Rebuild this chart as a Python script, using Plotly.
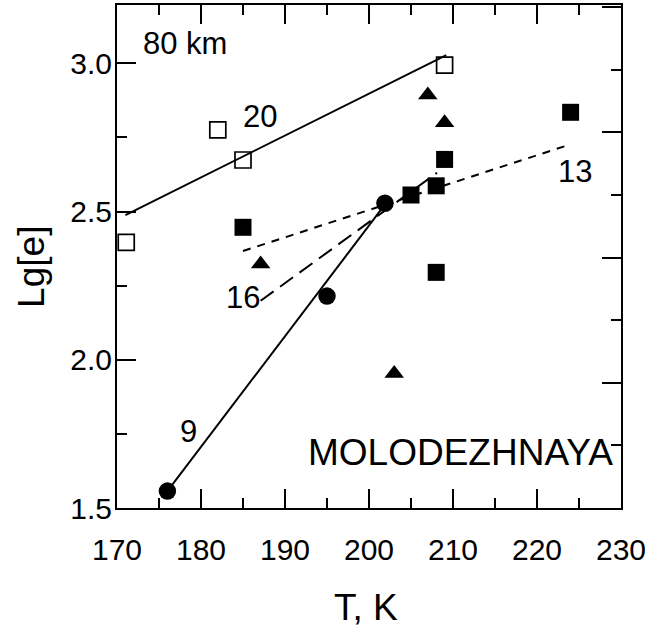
import plotly.graph_objects as go

FONT = "Liberation Sans, Arial, Helvetica, sans-serif"

# ---- data (T in K, Lg[e]) ----
open_sq_T = [171.1, 182.0, 185.0, 209.0]
open_sq_y = [2.396, 2.776, 2.674, 2.994]

fill_sq_T = [185.0, 205.0, 208.0, 208.0, 209.0, 224.0]
fill_sq_y = [2.447, 2.556, 2.587, 2.295, 2.676, 2.835]

tri_T = [187.1, 203.0, 207.0, 209.0]
tri_y = [2.323, 1.954, 2.893, 2.800]

circ_T = [176.0, 195.0, 201.9]
circ_y = [1.557, 2.215, 2.528]

# fitted lines (end points)
line20_T = [171.0, 209.2]
line20_y = [2.488, 3.028]
line13_T = [185.0, 224.0]
line13_y = [2.367, 2.727]
line16_T = [187.1, 208.1]
line16_y = [2.199, 2.631]
line9_T = [176.0, 202.2]
line9_y = [1.557, 2.535]

labels_text = ["80 km", "20", "13", "16", "9"]
labels_T = [178.1, 187.0, 224.5, 185.0, 178.5]
labels_y = [3.067, 2.820, 2.634, 2.209, 1.759]

x_ticks = [170, 180, 190, 200, 210, 220, 230]
y_ticks = [1.5, 2.0, 2.5, 3.0]

fig = go.Figure()

# lines
fig.add_trace(go.Scatter(x=line20_T, y=line20_y, mode="lines",
                         line=dict(color="black", width=2), showlegend=False))
fig.add_trace(go.Scatter(x=line13_T, y=line13_y, mode="lines",
                         line=dict(color="black", width=2, dash="8px,7px"), showlegend=False))
fig.add_trace(go.Scatter(x=line16_T, y=line16_y, mode="lines",
                         line=dict(color="black", width=2, dash="16px,8px"), showlegend=False))
fig.add_trace(go.Scatter(x=line9_T, y=line9_y, mode="lines",
                         line=dict(color="black", width=2), showlegend=False))

# markers
fig.add_trace(go.Scatter(x=open_sq_T, y=open_sq_y, mode="markers",
                         marker=dict(symbol="square-open", size=16, color="black",
                                     line=dict(width=1.7, color="black")),
                         showlegend=False))
fig.add_trace(go.Scatter(x=fill_sq_T, y=fill_sq_y, mode="markers",
                         marker=dict(symbol="square", size=17, color="black",
                                     line=dict(width=0)),
                         showlegend=False))
fig.add_trace(go.Scatter(x=tri_T, y=tri_y, mode="markers",
                         marker=dict(symbol="triangle-up", size=17, color="black",
                                     line=dict(width=0)),
                         showlegend=False))
fig.add_trace(go.Scatter(x=circ_T, y=circ_y, mode="markers",
                         marker=dict(symbol="circle", size=17.5, color="black",
                                     line=dict(width=0)),
                         showlegend=False))

# dummy trace for mirror axes
fig.add_trace(go.Scatter(x=[None], y=[None], xaxis="x2", yaxis="y2", showlegend=False))

for t, xx, yy in zip(labels_text, labels_T, labels_y):
    fig.add_annotation(x=xx, y=yy, text=t, showarrow=False,
                       font=dict(family=FONT, size=31, color="black"))

fig.add_annotation(x=210.9, y=1.687, text="MOLODEZHNAYA", showarrow=False,
                   font=dict(family=FONT, size=37, color="black"))

# axis titles
fig.add_annotation(x=0.494, y=-0.197, xref="paper", yref="paper", text="T, K",
                   xanchor="center", yanchor="middle",
                   showarrow=False, font=dict(family=FONT, size=37, color="black"))
fig.add_annotation(x=-0.171, y=0.479, xref="paper", yref="paper", text="Lg[e]",
                   xanchor="center", yanchor="middle",
                   textangle=-90, showarrow=False,
                   font=dict(family=FONT, size=37, color="black"))

common = dict(showgrid=False, zeroline=False, ticks="inside", tickwidth=2,
              tickcolor="black", ticklen=19, linecolor="black", linewidth=2,
              showline=True)

fig.update_layout(
    width=664, height=630,
    margin=dict(l=117, r=43, t=5, b=122, pad=0),
    paper_bgcolor="white", plot_bgcolor="white",
    font=dict(family=FONT, size=30, color="black"),
    showlegend=False,
    xaxis=dict(range=[170, 230], tickvals=x_ticks, ticktext=[str(v) for v in x_ticks],
               minor=dict(dtick=5, tick0=170, ticks="inside", ticklen=10,
                          tickwidth=2, tickcolor="black"),
               ticklabelstandoff=14,
               **common),
    yaxis=dict(range=[1.5, 3.197], tickvals=y_ticks,
               ticktext=["%.1f" % v for v in y_ticks],
               minor=dict(dtick=0.25, tick0=1.5, ticks="inside", ticklen=10,
                          tickwidth=2, tickcolor="black"),
               ticklabelstandoff=-3,
               **common),
    xaxis2=dict(range=[170, 230], overlaying="x", side="top", dtick=10, tick0=170,
                showticklabels=False,
                minor=dict(dtick=5, tick0=170, ticks="inside", ticklen=10,
                           tickwidth=2, tickcolor="black"),
                **common),
    yaxis2=dict(range=[0, 4.017], overlaying="y", side="right", dtick=1, tick0=0,
                showticklabels=False,
                minor=dict(dtick=0.5, tick0=0, ticks="inside", ticklen=10,
                           tickwidth=2, tickcolor="black"),
                **common),
)

fig.write_html("out.html")
